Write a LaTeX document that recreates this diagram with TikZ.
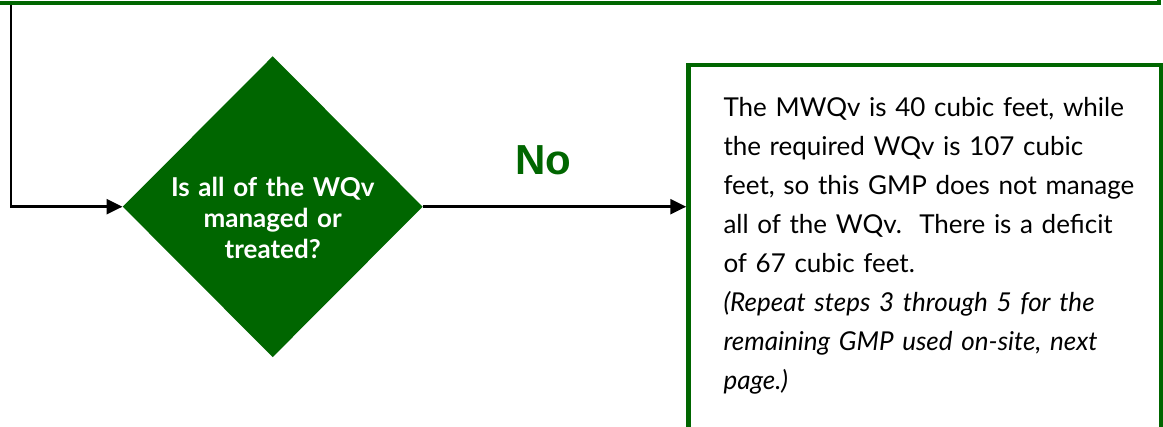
\documentclass[tikz,border=0pt]{standalone}
\usepackage{fontspec}
\setmainfont{Lato}
\newfontfamily\labelfont{Liberation Sans}
\usetikzlibrary{shapes.geometric,arrows.meta}
\definecolor{flowgreen}{RGB}{0,102,0}
\begin{document}
\begin{tikzpicture}[x=1pt,y=-1pt,
  panel/.style={draw=flowgreen, line width=4.5pt, fill=white, rectangle, inner sep=0pt},
  decision/.style={diamond, aspect=1, fill=flowgreen, draw=none, inner sep=0pt,
    minimum width=300pt, minimum height=301pt},
  question/.style={text=white, font=\bfseries\fontsize{26}{30.7}\selectfont,
    text width=290pt, align=center, inner sep=0pt, anchor=base},
  bodytext/.style={text=black, font=\fontsize{26}{39}\selectfont,
    text width=440pt, align=left, inner sep=0pt, anchor=base west},
  answer/.style={text=flowgreen, font=\labelfont\bfseries\fontsize{42}{42}\selectfont, inner sep=0pt},
  flowline/.style={draw=black, line width=2.4pt, -{Triangle[length=16pt,width=15pt]}}]
\useasboundingbox (0,0) rectangle (1163,427);
\clip (0,0) rectangle (1163,427);

% frame of the step above, only its lower edge shows
\node[panel, minimum width=1199pt, minimum height=100pt] (prev) at (559.5,-47) {};
\coordinate (tap) at (11,5.25);

% decision
\node[decision] (d) at (272.7,206.7) {};
\node[question] (dq) at (272.7,196.7) {Is all of the WQv\\managed or\\treated?};

% outcome box
\node[panel, minimum width=473pt, minimum height=400pt] (box) at (925,265) {};
\node[bodytext] (bt) at (723.3,116.7) {The MWQv is 40 cubic feet, while\\
the required WQv is 107 cubic\\
feet, so this GMP does not manage\\
all of the WQv.\ \ There is a deficit\\
of 67 cubic feet.\\
\itshape (Repeat steps 3 through 5 for the\\
\itshape remaining GMP used on-site, next\\
\itshape page.)};

% branch label
\node[answer] (no) at (543,160) {No};

% connectors
\draw[flowline] (tap) |- (d.west);
\draw[flowline] (d.east) -- (d.east -| box.west);
\end{tikzpicture}
\end{document}
